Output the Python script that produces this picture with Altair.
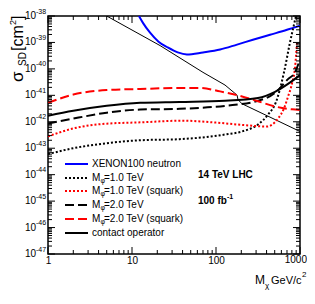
import altair as alt
import pandas as pd

# ---------------- data ----------------
mx_xenon = [12.1, 13.5, 16.4, 20.7, 26.6, 35, 45, 70, 112, 178, 275, 440, 700, 1000]
sd_xenon = [1.0e-38, 5.5e-39, 2.34e-39, 1.07e-39, 6.5e-40, 4.2e-40, 3.5e-40, 4.2e-40,
            5.4e-40, 8.3e-40, 1.26e-39, 1.95e-39, 3.0e-39, 4.3e-39]

mx_phi1 = [1, 2, 5, 12.5, 37, 128, 204, 316, 416, 518, 645, 760, 896]
sd_phi1 = [6.0e-44, 1.0e-43, 1.55e-43, 2.0e-43, 2.2e-43, 3.3e-43, 4.3e-43, 7.9e-43,
           1.86e-42, 5.6e-42, 7.4e-41, 1.0e-39, 1.0e-38]

mx_phi1_sq = [1, 2, 5, 12.5, 40, 100, 254, 400, 547, 645, 720, 803, 872, 921]
sd_phi1_sq = [2.8e-43, 5.6e-43, 8.5e-43, 9.5e-43, 1.1e-42, 9.3e-43, 7.2e-43, 6.6e-43,
              1.32e-42, 3.2e-42, 8.9e-42, 2.8e-41, 1.12e-40, 1.0e-39]

mx_phi2 = [1, 2, 5, 12.5, 37, 128, 316, 504, 720, 872, 1000]
sd_phi2 = [8.5e-43, 1.32e-42, 2.2e-42, 2.9e-42, 3.1e-42, 4.0e-42, 6.2e-42, 1.23e-41,
           4.1e-41, 7.4e-41, 2.3e-40]

mx_phi2_sq = [1, 2, 5, 12.5, 37, 64, 112, 204, 316, 504, 803, 1000]
sd_phi2_sq = [5.2e-42, 1.07e-41, 1.58e-41, 1.74e-41, 1.9e-41, 1.9e-41, 1.41e-41, 9.1e-42,
              6.0e-42, 3.8e-42, 2.95e-42, 2.8e-42]

mx_contact = [1, 2, 5, 12.5, 37, 128, 316, 504, 720, 1000]
sd_contact = [1.7e-42, 2.6e-42, 4.0e-42, 5.2e-42, 5.6e-42, 6.2e-42, 7.9e-42, 1.35e-41,
              2.7e-41, 5.8e-41]

mx_thin = [5.0, 21.6, 70, 128, 178, 183, 204, 1000]
sd_thin = [1.0e-38, 7.6e-40, 7.4e-41, 2.45e-41, 1.02e-41, 6.8e-42, 4.8e-42, 4.3e-43]

x_label_values = [1, 10, 100]
x_last_label = [1000]
y_exponents = list(range(-47, -37))

legend_main = ["XENON100 neutron", "M", "M", "M", "M", "contact operator"]
legend_sub = ["", "\u03c6", "\u03c6", "\u03c6", "\u03c6", ""]
legend_rest = ["", "=1.0 TeV", "=1.0 TeV (squark)", "=2.0 TeV", "=2.0 TeV (squark)", ""]

# ---------------- layout ----------------
W, H = 252, 238
FONT = "Liberation Sans"
xs = alt.Scale(type="log", domain=[1, 1000], nice=False)
ys = alt.Scale(type="log", domain=[1e-47, 1e-38], nice=False)
xaxis = alt.Axis(values=x_label_values, format="d", ticks=False, tickSize=0, domain=False,
                 grid=False, labelFontSize=10, labelPadding=1, labelFlush=False, title=None,
                 labelColor="black", labelFont=FONT)


def curve(mx, sd, color, width, dash=None, interp="monotone"):
    d = pd.DataFrame({"mx": mx, "sd": sd})
    kw = dict(color=color, strokeWidth=width, clip=True, interpolate=interp)
    if dash is not None:
        kw["strokeDash"] = dash
    return alt.Chart(d).mark_line(**kw).encode(
        x=alt.X("mx:Q", scale=xs, axis=xaxis),
        y=alt.Y("sd:Q", scale=ys, axis=None),
    )


DOT = [2, 2]
DASH = [9, 4]
layers = [
    curve(mx_thin, sd_thin, "black", 1.0, interp="linear"),
    curve(mx_xenon, sd_xenon, "#0000ff", 2.0),
    curve(mx_phi1, sd_phi1, "black", 2.0, DOT),
    curve(mx_phi1_sq, sd_phi1_sq, "#ff0000", 2.0, DOT),
    curve(mx_phi2, sd_phi2, "black", 2.0, DASH),
    curve(mx_phi2_sq, sd_phi2_sq, "#ff0000", 2.0, DASH),
    curve(mx_contact, sd_contact, "black", 2.0),
]

# ---------------- inner ticks ----------------
x_major = [1, 10, 100, 1000]
x_minor = [k * 10 ** e for e in range(0, 3) for k in range(2, 10)]
y_major = [10.0 ** e for e in range(-47, -37)]
y_minor = [k * 10.0 ** e for e in range(-47, -38) for k in range(2, 10)]


def xticks(vals, L):
    b = alt.Chart(pd.DataFrame({"v": vals})).mark_rule(color="black", strokeWidth=1)
    enc = dict(x=alt.X("v:Q", scale=xs, axis=xaxis))
    return [b.encode(y=alt.value(H), y2=alt.value(H - L), **enc),
            b.encode(y=alt.value(0), y2=alt.value(L), **enc)]


def yticks(vals, L):
    b = alt.Chart(pd.DataFrame({"v": vals})).mark_rule(color="black", strokeWidth=1)
    enc = dict(y=alt.Y("v:Q", scale=ys, axis=None))
    return [b.encode(x=alt.value(0), x2=alt.value(L), **enc),
            b.encode(x=alt.value(W), x2=alt.value(W - L), **enc)]


layers += xticks(x_major, 7) + xticks(x_minor, 4) + yticks(y_major, 7) + yticks(y_minor, 4)

# last x label, kept inside the page
layers.append(alt.Chart(pd.DataFrame({"v": x_last_label})).mark_text(
    align="right", baseline="top", fontSize=10, font=FONT, color="black", dx=7, dy=1).encode(
    x=alt.X("v:Q", scale=xs, axis=xaxis), y=alt.value(H), text=alt.Text("v:Q", format="d")))

# ---------------- y tick labels (10^n) ----------------
ylab = pd.DataFrame({"v": [10.0 ** e for e in y_exponents], "exp": [str(e) for e in y_exponents]})
layers.append(alt.Chart(ylab).mark_text(align="right", baseline="middle", fontSize=10, font=FONT,
                                        color="black").encode(
    y=alt.Y("v:Q", scale=ys, axis=None), x=alt.value(-12), text=alt.value("10")))
layers.append(alt.Chart(ylab).mark_text(align="left", baseline="middle", fontSize=7, font=FONT,
                                        color="black", dy=-4.5).encode(
    y=alt.Y("v:Q", scale=ys, axis=None), x=alt.value(-12), text="exp:N"))

# ---------------- axis titles / annotations ----------------
one = pd.DataFrame({"a": [0]})


def txt(s, x, y, size, angle=0, bold=False, align="left", baseline="alphabetic"):
    kw = dict(align=align, baseline=baseline, fontSize=size, font=FONT, color="black")
    if angle:
        kw["angle"] = angle
    if bold:
        kw["fontWeight"] = "bold"
    return alt.Chart(one).mark_text(**kw).encode(x=alt.value(x), y=alt.value(y), text=alt.value(s))


layers += [
    txt("\u03c3", -25, 66, 17, angle=270),
    txt("SD", -22, 50, 10, angle=270),
    txt("[cm", -25, 35, 16, angle=270),
    txt("2", -32, 9, 9, angle=270),
    txt("]", -25, 4, 16, angle=270),
    txt("M", 207, 268, 12),
    txt("\u03c7", 217, 272, 8),
    txt("GeV/c", 223, 268, 11),
    txt("2", 254, 261, 8),
    txt("14 TeV LHC", 150, 162, 10, bold=True),
    txt("100 fb", 150, 188, 10, bold=True),
    txt("-1", 179, 183, 7, bold=True),
]

# ---------------- legend ----------------
leg_y = [148, 162, 175, 189, 203, 217]
leg_styles = [("#0000ff", None), ("black", DOT), ("#ff0000", DOT),
              ("black", DASH), ("#ff0000", DASH), ("black", None)]
for ly, (col, dash) in zip(leg_y, leg_styles):
    kw = dict(color=col, strokeWidth=2)
    if dash is not None:
        kw["strokeDash"] = dash
    layers.append(alt.Chart(one).mark_rule(**kw).encode(
        x=alt.value(17), x2=alt.value(40), y=alt.value(ly)))

leg = pd.DataFrame({"ly": leg_y, "main": legend_main, "sub": legend_sub, "rest": legend_rest})
layers.append(alt.Chart(leg).mark_text(align="left", baseline="middle", fontSize=10, font=FONT,
                                       color="black").encode(
    x=alt.value(44), y=alt.Y("ly:Q", scale=None), text="main:N"))
layers.append(alt.Chart(leg).mark_text(align="left", baseline="middle", fontSize=7, font=FONT,
                                       color="black", dy=3).encode(
    x=alt.value(52.5), y=alt.Y("ly:Q", scale=None), text="sub:N"))
layers.append(alt.Chart(leg).mark_text(align="left", baseline="middle", fontSize=10, font=FONT,
                                       color="black").encode(
    x=alt.value(56), y=alt.Y("ly:Q", scale=None), text="rest:N"))

chart = alt.layer(*layers).properties(
    width=W, height=H,
    autosize=alt.AutoSizeParams(type="none"),
    padding={"left": 40, "top": 8, "right": 7, "bottom": 42},
    background="white",
).configure_view(stroke="black", strokeWidth=1.5)

chart.save("out.html", embed_options={"renderer": "svg", "actions": False})
